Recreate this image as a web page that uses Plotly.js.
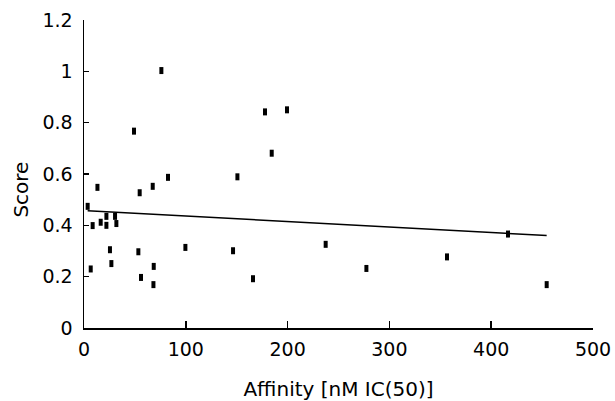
<!DOCTYPE html>
<html>
<head>
<meta charset="utf-8">
<script src="https://cdn.plot.ly/plotly-3.0.1.min.js"></script>
<style>
html,body{margin:0;padding:0;background:#fff;}
#chart{width:615px;height:401px;}
</style>
</head>
<body>
<div id="chart"></div>
<script>
// Data
const affinity = [76.0, 49.1, 82.5, 150.7, 13.2, 67.5, 54.7, 3.6, 8.5, 16.4, 22.0, 22.0, 30.5, 31.8, 25.5, 53.4,
                  99.6, 146.4, 6.6, 26.9, 68.5, 56.0, 68.2, 166.0, 177.8, 199.4, 184.4, 237.4, 277.4, 356.6, 416.5, 454.5];
const score    = [1.003, 0.767, 0.587, 0.589, 0.548, 0.552, 0.527, 0.474, 0.399, 0.412, 0.435, 0.400, 0.435, 0.407, 0.305, 0.297,
                  0.314, 0.301, 0.230, 0.251, 0.240, 0.197, 0.169, 0.192, 0.842, 0.850, 0.681, 0.326, 0.232, 0.277, 0.366, 0.169];
// Trend line end points
const trendX = [3.6, 454.5];
const trendY = [0.457, 0.360];
const xTicks = [0, 100, 200, 300, 400, 500];
const yTicks = [0, 0.2, 0.4, 0.6, 0.8, 1, 1.2];
const xTitle = 'Affinity [nM IC(50)]';
const yTitle = 'Score';

const tickFont = {family: 'DejaVu Sans, sans-serif', size: 19, color: '#000'};
const titleFont = {family: 'DejaVu Sans, sans-serif', size: 20, color: '#000'};

const traces = [
  {
    x: affinity, y: score, type: 'scatter', mode: 'markers',
    marker: {symbol: 'line-ns', size: 5, color: '#000', line: {color: '#000', width: 4}},
    hoverinfo: 'x+y'
  },
  {
    x: trendX, y: trendY, type: 'scatter', mode: 'lines',
    line: {color: '#000', width: 1.5}, hoverinfo: 'skip'
  }
];

const layout = {
  width: 615, height: 401,
  margin: {l: 84, r: 22, t: 20, b: 73},
  paper_bgcolor: '#fff', plot_bgcolor: '#fff',
  showlegend: false,
  font: tickFont,
  xaxis: {
    range: [0, 500], tickvals: xTicks, ticktext: xTicks.map(String),
    showgrid: false, zeroline: false, showline: true, linecolor: '#000', linewidth: 1.5,
    ticks: 'inside', ticklen: 7, tickwidth: 1.5, tickcolor: '#000',
    tickfont: tickFont, ticklabelstandoff: 4,
    title: {text: xTitle, font: titleFont, standoff: 22}
  },
  yaxis: {
    range: [0, 1.2], tickvals: yTicks, ticktext: yTicks.map(String),
    showgrid: false, zeroline: false, showline: true, linecolor: '#000', linewidth: 1.5,
    ticks: 'inside', ticklen: 5, tickwidth: 1.5, tickcolor: '#000',
    tickfont: tickFont, ticklabelstandoff: 6
  },
  annotations: [{
    text: yTitle, textangle: -90, font: titleFont, showarrow: false,
    xref: 'paper', yref: 'paper', x: -0.124, y: 0.449, xanchor: 'center', yanchor: 'middle'
  }]
};

Plotly.newPlot('chart', traces, layout, {displayModeBar: false, staticPlot: true});
</script>
</body>
</html>
